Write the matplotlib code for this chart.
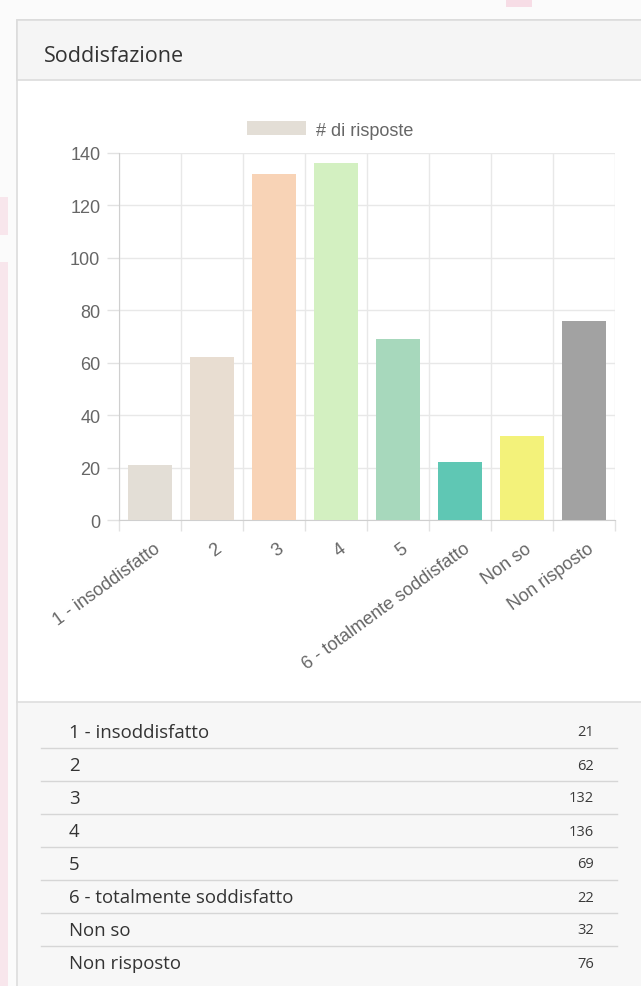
import matplotlib
matplotlib.use("Agg")
import matplotlib.pyplot as plt
from matplotlib.patches import Rectangle
from matplotlib.ticker import FixedLocator
from matplotlib.transforms import ScaledTranslation

# ---- data ----
title = "Soddisfazione"
legend_label = "# di risposte"
categories = ["1 - insoddisfatto", "2", "3", "4", "5",
              "6 - totalmente soddisfatto", "Non so", "Non risposto"]
values = [21, 62, 132, 136, 69, 22, 32, 76]
bar_colors = ["#e3ded6", "#e8ddd1", "#f8d3b6", "#d3f0c1", "#a7d8bc",
              "#5fc7b4", "#f3f27a", "#a2a2a2"]
y_ticks = [0, 20, 40, 60, 80, 100, 120, 140]

W, H = 641, 987
DPI = 100
fig = plt.figure(figsize=(W / DPI, H / DPI), dpi=DPI)
fig.patch.set_facecolor("#fbfbfb")

# background axes in pixel coordinates
bg = fig.add_axes([0, 0, 1, 1])
bg.set_xlim(0, W)
bg.set_ylim(H, 0)
bg.axis("off")

# faint watermark patches of the page behind the panel
bg.add_patch(Rectangle((0, 198), 8, 38, facecolor="#f8e6ec", edgecolor="none"))
bg.add_patch(Rectangle((0, 263), 8, H - 263, facecolor="#f8e6ec", edgecolor="none"))
bg.add_patch(Rectangle((506, 0), 26, 8, facecolor="#f7dde6", edgecolor="none"))

# panel
px0, py0 = 17, 21
bg.add_patch(Rectangle((px0, py0), W - px0 + 5, H, facecolor="white",
                       edgecolor="#dcdcdc", lw=1.2))
# header
bg.add_patch(Rectangle((px0, py0), W - px0 + 5, 60, facecolor="#f5f5f5",
                       edgecolor="#dcdcdc", lw=1.2))
bg.text(44, 56, title, fontsize=15.5, family="Open Sans", color="#333333",
        va="center", ha="left")
# table area
bg.add_patch(Rectangle((px0 + 1, 703), W - px0 + 5, H - 703, facecolor="#f7f7f7",
                       edgecolor="none"))
bg.plot([px0, W], [703, 703], color="#dedede", lw=1.2)

row_y0 = 733
row_h = 33
for i, (c, v) in enumerate(zip(categories, values)):
    y = row_y0 + i * row_h
    bg.text(69, y, c, fontsize=13.4, family="Open Sans", color="#333333",
            va="center", ha="left")
    bg.text(594, y, str(v), fontsize=10.5, family="Open Sans", color="#3a3a3a",
            va="center", ha="right")
    if i < len(categories) - 1:
        bg.plot([41, 617], [y + 15.5, y + 15.5], color="#d6d6d6", lw=1.0)

# chart axes
ax_l, ax_r, ax_b, ax_t = 119, 615, 521, 154
ax = fig.add_axes([ax_l / W, (H - ax_b) / H, (ax_r - ax_l) / W, (ax_b - ax_t) / H])
ax.set_facecolor("none")
n = len(categories)
ax.bar(range(n), values, width=0.72, color=bar_colors, label=legend_label, zorder=3)
ax.set_xlim(-0.5, n - 0.5)
ax.set_ylim(0, 140)

ax.yaxis.set_major_locator(FixedLocator(y_ticks))
ax.set_yticklabels([str(t) for t in y_ticks], family="Liberation Sans",
                   fontsize=13, color="#666666")
ax.tick_params(axis="y", length=8.5, width=1, color="#e2e2e2", pad=5)
ax.grid(axis="y", color="#e8e8e8", lw=1, zorder=0)

ax.set_xticks(range(n))
ax.set_xticklabels(categories, rotation=36, ha="right", va="center",
                   rotation_mode="anchor",
                   family="Liberation Sans", fontsize=13, color="#666666")
ax.tick_params(axis="x", which="major", length=0, pad=19)
off = ScaledTranslation(8 / DPI, 0, fig.dpi_scale_trans)
for lab in ax.get_xticklabels():
    lab.set_transform(lab.get_transform() + off)
ax.xaxis.set_minor_locator(FixedLocator([i - 0.5 for i in range(n + 1)]))
ax.tick_params(axis="x", which="minor", length=8, width=1, color="#e2e2e2")
ax.grid(axis="x", which="minor", color="#e8e8e8", lw=1, zorder=0)

for s in ["top", "right"]:
    ax.spines[s].set_visible(False)
ax.spines["left"].set_color("#cfcfcf")
ax.spines["bottom"].set_color("#cfcfcf")

leg = fig.legend(handles=ax.containers[0].patches[:1], labels=[legend_label],
                 loc="center", bbox_to_anchor=(330 / W, (H - 131) / H),
                 frameon=False, handlelength=3.3, handleheight=0.8,
                 handletextpad=0.55, borderpad=0,
                 prop={"family": "Liberation Sans", "size": 13})
for t in leg.get_texts():
    t.set_color("#666666")
for p in leg.get_patches():
    p.set_facecolor(bar_colors[0])

fig.savefig("out.png", dpi=DPI)
